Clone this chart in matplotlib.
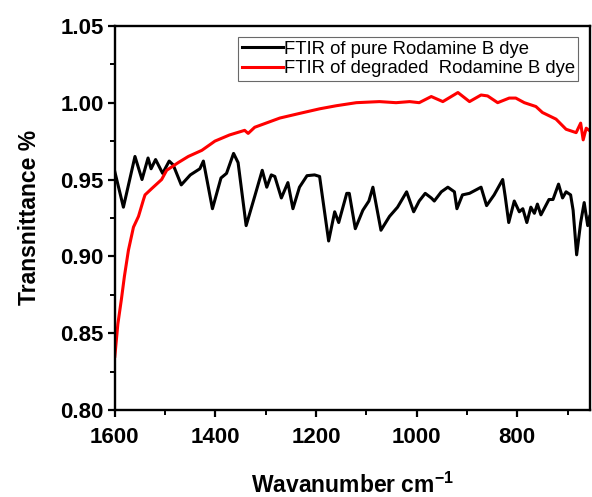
import matplotlib
matplotlib.use("Agg")
import matplotlib.pyplot as plt
from matplotlib.ticker import MultipleLocator, FormatStrFormatter

plt.rcParams['font.family'] = ['Liberation Sans', 'DejaVu Sans']
plt.rcParams['mathtext.fontset'] = 'custom'
plt.rcParams['mathtext.bf'] = 'Liberation Sans:bold'
plt.rcParams['mathtext.rm'] = 'Liberation Sans:bold'
plt.rcParams['mathtext.default'] = 'bf'
plt.rcParams['axes.unicode_minus'] = False

# pure dye spectrum
pure_wn = [1600, 1583, 1560, 1546, 1534, 1528, 1519, 1505, 1492, 1484, 1468, 1450,
           1431, 1424, 1406, 1389, 1378, 1364, 1355, 1339, 1322, 1307, 1298, 1289,
           1282, 1269, 1256, 1246, 1233, 1218, 1203, 1193, 1175, 1163, 1155, 1139,
           1134, 1122, 1107, 1095, 1087, 1071, 1054, 1038, 1020, 1006, 995, 983,
           971, 965, 951, 938, 925, 920, 909, 895, 872, 861, 846, 829, 824, 817,
           806, 796, 789, 781, 773, 766, 760, 753, 737, 729, 718, 710, 703, 694,
           689, 682, 674, 667, 660, 656]
pure_t = [0.955, 0.932, 0.965, 0.950, 0.964, 0.957, 0.963, 0.954, 0.962, 0.9595,
          0.9465, 0.953, 0.957, 0.962, 0.931, 0.951, 0.954, 0.967, 0.961, 0.920,
          0.939, 0.956, 0.945, 0.953, 0.952, 0.938, 0.948, 0.931, 0.945, 0.9525,
          0.953, 0.952, 0.910, 0.929, 0.922, 0.941, 0.941, 0.918, 0.930, 0.936,
          0.945, 0.917, 0.926, 0.932, 0.942, 0.929, 0.936, 0.941, 0.938, 0.936,
          0.942, 0.945, 0.942, 0.931, 0.940, 0.941, 0.945, 0.933, 0.940, 0.950,
          0.939, 0.922, 0.936, 0.929, 0.931, 0.922, 0.932, 0.928, 0.934, 0.927,
          0.937, 0.937, 0.947, 0.938, 0.942, 0.940, 0.930, 0.901, 0.922, 0.935,
          0.920, 0.926]

# degraded dye spectrum
deg_wn = [1600, 1594, 1587, 1581, 1573, 1563, 1553, 1543, 1540, 1527, 1507, 1497,
          1474, 1454, 1427, 1401, 1372, 1342, 1335, 1322, 1272, 1233, 1193, 1160,
          1120, 1074, 1041, 1014, 995, 971, 948, 918, 895, 872, 859, 839, 816,
          803, 786, 763, 750, 723, 703, 683, 674, 669, 663, 654]
deg_t = [0.835, 0.856, 0.872, 0.887, 0.904, 0.919, 0.926, 0.937, 0.940, 0.944,
         0.950, 0.956, 0.961, 0.965, 0.969, 0.975, 0.979, 0.982, 0.980, 0.984,
         0.990, 0.993, 0.996, 0.998, 1.000, 1.0007, 1.000, 1.0007, 1.000, 1.004,
         1.0007, 1.0066, 1.0007, 1.005, 1.0044, 1.000, 1.003, 1.003, 1.000,
         0.9975, 0.9936, 0.9893, 0.9827, 0.9805, 0.9867, 0.9758, 0.9834, 0.9812]

fig = plt.figure(figsize=(5.92, 4.97), dpi=100)
ax = fig.add_axes([0.194, 0.175, 0.803, 0.773])

ax.plot(pure_wn, pure_t, color='black', lw=2.2, label='FTIR of pure Rodamine B dye')
ax.plot(deg_wn, deg_t, color='red', lw=2.2, label='FTIR of degraded  Rodamine B dye')

ax.set_xlim(1600, 655)
ax.set_ylim(0.80, 1.05)
ax.xaxis.set_major_locator(MultipleLocator(200))
ax.xaxis.set_minor_locator(MultipleLocator(100))
ax.yaxis.set_major_locator(MultipleLocator(0.05))
ax.yaxis.set_minor_locator(MultipleLocator(0.025))
ax.yaxis.set_major_formatter(FormatStrFormatter('%.2f'))

for s in ax.spines.values():
    s.set_linewidth(1.7)
ax.tick_params(which='major', direction='out', length=5, width=1.6,
               labelsize=16, top=False, right=False)
ax.tick_params(axis='x', which='major', pad=7)
ax.tick_params(axis='y', which='major', pad=3)
ax.tick_params(which='minor', direction='out', length=3.5, width=1.4,
               top=False, right=False)
for lab in ax.get_xticklabels() + ax.get_yticklabels():
    lab.set_fontweight('bold')

ax.set_xlabel('Wavanumber cm$^{-1}$', fontsize=16.5, fontweight='bold', labelpad=18)
ax.set_ylabel('Transnittance %', fontsize=16.5, fontweight='bold', labelpad=14)

leg = ax.legend(loc='upper right', bbox_to_anchor=(0.975, 0.971), fontsize=13.3,
                frameon=True, fancybox=False, handlelength=2.2, handletextpad=0.05,
                borderpad=0.2, labelspacing=0.15, borderaxespad=0)
leg.get_frame().set_edgecolor('#444444')
leg.get_frame().set_linewidth(0.8)

fig.savefig('out.png', dpi=100)
